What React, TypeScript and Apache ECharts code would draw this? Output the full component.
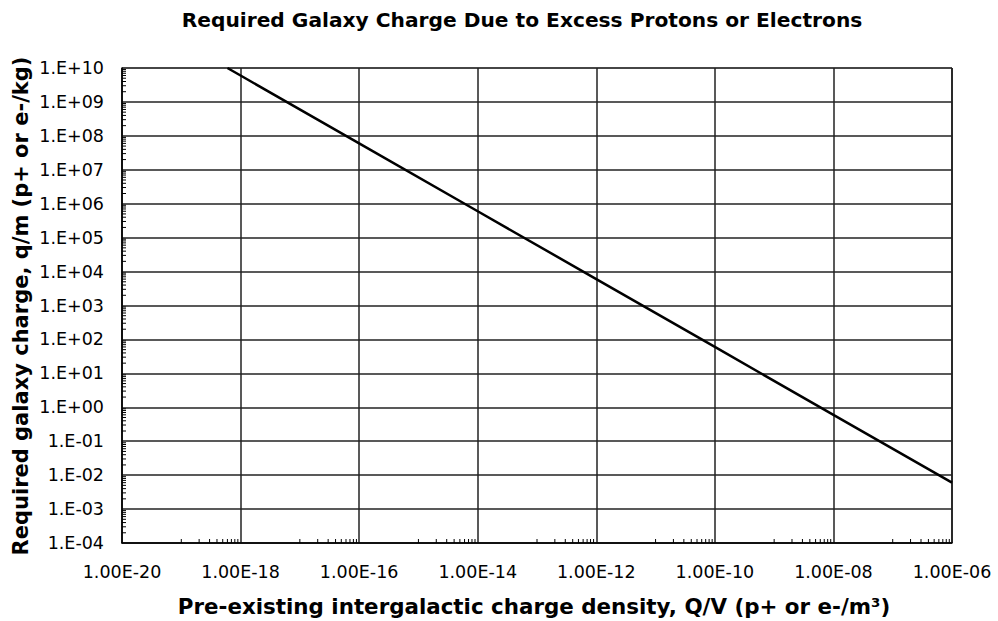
import React, { useEffect, useRef } from "react";
import * as echarts from "echarts";

const titleText = "Required Galaxy Charge Due to Excess Protons or Electrons";
const xAxisTitle = "Pre-existing intergalactic charge density, Q/V (p+ or e-/m³)";
const yAxisTitle = "Required galaxy charge, q/m (p+ or e-/kg)";

// Line series: Q/V density (x) vs required q/m (y)
const densityValues = [6e-19, 1e-18, 1e-16, 1e-14, 1e-12, 1e-10, 1e-8, 1e-6];
const chargeValues = [1e10, 6e9, 6e7, 6e5, 6e3, 60, 0.6, 6e-3];

// Axis extents (log scale)
const xMin = 1e-20;
const xMax = 1e-6;
const yMin = 1e-4;
const yMax = 1e10;

// Minor tick decades (Excel-style): x minor ticks only in odd decades, y minor ticks every decade
const xMinorDecades = [-19, -17, -15, -13, -11, -9, -7];
const yMinorDecades = [-4, -3, -2, -1, 0, 1, 2, 3, 4, 5, 6, 7, 8, 9];
const minorMantissas = [1, 2, 3, 4, 5, 6, 7, 8, 9];

const FONT = "Verdana, 'DejaVu Sans', sans-serif";

function expOf(v: number) {
  return Math.round(Math.log10(v));
}
function pad2(n: number) {
  const a = Math.abs(n);
  return (n < 0 ? "-" : "+") + (a < 10 ? "0" + a : "" + a);
}

export default function App() {
  const ref = useRef<HTMLDivElement>(null);
  useEffect(() => {
    if (!ref.current) return;
    const chart = echarts.init(ref.current, null, { renderer: "svg" });

    const xMinorData: number[][] = [];
    xMinorDecades.forEach((e) =>
      minorMantissas.forEach((m) => xMinorData.push([m * Math.pow(10, e), yMin]))
    );
    const yMinorData: number[][] = [];
    yMinorDecades.forEach((e) =>
      minorMantissas.slice(1).forEach((m) => yMinorData.push([xMin, m * Math.pow(10, e)]))
    );

    chart.setOption({
      animation: false,
      backgroundColor: "#ffffff",
      grid: {
        left: 122,
        right: 46,
        top: 68,
        bottom: 78,
        show: true,
        borderColor: "#666",
        borderWidth: 1,
        backgroundColor: "transparent",
      },
      xAxis: {
        type: "log",
        logBase: 10,
        min: xMin,
        max: xMax,
        interval: 2,
        axisLine: { show: true, onZero: false, lineStyle: { color: "#000", width: 1.5 } },
        axisTick: { show: false },
        splitLine: { show: true, lineStyle: { color: "#222", width: 1.5 } },
        axisLabel: {
          margin: 20,
          fontFamily: FONT,
          fontSize: 17.5,
          color: "#000",
          formatter: (v: number) => "1.00E" + pad2(expOf(v)),
        },
      },
      yAxis: {
        type: "log",
        logBase: 10,
        min: yMin,
        max: yMax,
        interval: 1,
        axisLine: { show: true, onZero: false, lineStyle: { color: "#000", width: 1.5 } },
        axisTick: { show: false },
        splitLine: { show: true, lineStyle: { color: "#222", width: 1.5 } },
        axisLabel: {
          margin: 18,
          fontFamily: FONT,
          fontSize: 17.5,
          color: "#000",
          formatter: (v: number) => "1.E" + pad2(expOf(v)),
        },
      },
      graphic: [
        {
          type: "text",
          x: 522,
          y: 20,
          style: {
            text: titleText,
            fontFamily: FONT,
            fontSize: 20.2,
            fontWeight: "bold",
            fill: "#000",
            align: "center",
            verticalAlign: "middle",
          },
        },
        {
          type: "text",
          x: 534,
          y: 606,
          style: {
            text: xAxisTitle,
            fontFamily: FONT,
            fontSize: 21.4,
            fontWeight: "bold",
            fill: "#000",
            align: "center",
            verticalAlign: "middle",
          },
        },
        {
          type: "text",
          x: 21,
          y: 306,
          rotation: Math.PI / 2,
          style: {
            text: yAxisTitle,
            fontFamily: FONT,
            fontSize: 21,
            fontWeight: "bold",
            fill: "#000",
            align: "center",
            verticalAlign: "middle",
          },
        },
      ],
      series: [
        {
          type: "line",
          data: densityValues.map((x, i) => [x, chargeValues[i]]),
          showSymbol: false,
          symbol: "none",
          lineStyle: { color: "#000", width: 2.5 },
          z: 5,
        },
        {
          type: "custom",
          data: xMinorData,
          clip: false,
          silent: true,
          renderItem: (_p: any, api: any) => {
            const pt = api.coord([api.value(0), api.value(1)]);
            return {
              type: "line",
              shape: { x1: pt[0], y1: pt[1], x2: pt[0], y2: pt[1] - 4 },
              style: { stroke: "#000", lineWidth: 1 },
            };
          },
        },
        {
          type: "custom",
          data: yMinorData,
          clip: false,
          silent: true,
          renderItem: (_p: any, api: any) => {
            const pt = api.coord([api.value(0), api.value(1)]);
            return {
              type: "line",
              shape: { x1: pt[0], y1: pt[1], x2: pt[0] + 4, y2: pt[1] },
              style: { stroke: "#000", lineWidth: 1 },
            };
          },
        },
      ],
    });
    return () => chart.dispose();
  }, []);
  return (
    <div
      ref={ref}
      style={{ position: "fixed", left: 0, top: 0, width: 998, height: 621 }}
    />
  );
}
